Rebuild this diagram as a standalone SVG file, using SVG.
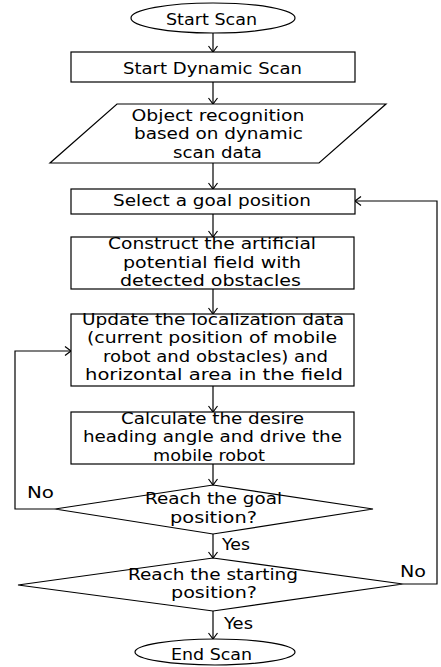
<svg xmlns="http://www.w3.org/2000/svg" width="441" height="667" viewBox="0 0 441 667">
<style>
.s{fill:#fff;stroke:#000;stroke-width:1.2}
.c{fill:none;stroke:#000;stroke-width:1.2}
text{font-family:"DejaVu Sans","Liberation Sans",sans-serif;font-size:15.5px;fill:#000;text-anchor:start}
</style>
<defs>
<marker id="a" markerWidth="12" markerHeight="12" refX="10" refY="6" orient="auto" markerUnits="userSpaceOnUse">
<path d="M4,1.5 L10,6 L4,10.5" fill="none" stroke="#000" stroke-width="1.2"/>
</marker>
</defs>
<g id="connectors">
<line class="c" x1="213" y1="33" x2="213" y2="52" marker-end="url(#a)"/>
<line class="c" x1="213" y1="82" x2="213" y2="104" marker-end="url(#a)"/>
<line class="c" x1="213" y1="163" x2="213" y2="189" marker-end="url(#a)"/>
<line class="c" x1="213" y1="214" x2="213" y2="237" marker-end="url(#a)"/>
<line class="c" x1="213" y1="289" x2="213" y2="314" marker-end="url(#a)"/>
<line class="c" x1="213" y1="386" x2="213" y2="412" marker-end="url(#a)"/>
<line class="c" x1="213" y1="464" x2="213" y2="485" marker-end="url(#a)"/>
<line class="c" x1="213" y1="534" x2="213" y2="558" marker-end="url(#a)"/>
<line class="c" x1="213" y1="611" x2="213" y2="639" marker-end="url(#a)"/>
<polyline class="c" points="55,509 15,509 15,351 71,351" marker-end="url(#a)"/>
<polyline class="c" points="403,584 437,584 437,201 355,201" marker-end="url(#a)"/>
<text x="27" y="498" textLength="27" lengthAdjust="spacingAndGlyphs">No</text>
<text x="222" y="550" textLength="28" lengthAdjust="spacingAndGlyphs">Yes</text>
<text x="400" y="577" textLength="26" lengthAdjust="spacingAndGlyphs">No</text>
<text x="224" y="629" textLength="29" lengthAdjust="spacingAndGlyphs">Yes</text>
</g>
<g id="start">
<ellipse class="s" cx="213" cy="18" rx="82" ry="15"/>
<text x="166" y="25" textLength="91" lengthAdjust="spacingAndGlyphs">Start Scan</text>
</g>
<g id="dynamic-scan">
<rect class="s" x="71" y="52" width="284" height="30"/>
<text x="123" y="74" textLength="179" lengthAdjust="spacingAndGlyphs">Start Dynamic Scan</text>
</g>
<g id="recognition">
<polygon class="s" points="117,104 386,104 319,163 50,163"/>
<text x="131.5" y="121" textLength="173" lengthAdjust="spacingAndGlyphs">Object recognition</text>
<text x="134" y="139" textLength="169" lengthAdjust="spacingAndGlyphs">based on dynamic</text>
<text x="173" y="157.5" textLength="89" lengthAdjust="spacingAndGlyphs">scan data</text>
</g>
<g id="select-goal">
<rect class="s" x="71" y="189" width="284" height="25"/>
<text x="113" y="206" textLength="198" lengthAdjust="spacingAndGlyphs">Select a goal position</text>
</g>
<g id="construct">
<rect class="s" x="71" y="237" width="283" height="52"/>
<text x="108" y="249" textLength="208" lengthAdjust="spacingAndGlyphs">Construct the artificial</text>
<text x="123" y="267.5" textLength="178" lengthAdjust="spacingAndGlyphs">potential field with</text>
<text x="120" y="286" textLength="181" lengthAdjust="spacingAndGlyphs">detected obstacles</text>
</g>
<g id="update">
<rect class="s" x="71" y="314" width="283" height="72"/>
<text x="82" y="325" textLength="262" lengthAdjust="spacingAndGlyphs">Update the localization data</text>
<text x="87" y="343.3" textLength="250" lengthAdjust="spacingAndGlyphs">(current position of mobile</text>
<text x="103" y="361.7" textLength="225" lengthAdjust="spacingAndGlyphs">robot and obstacles) and</text>
<text x="85" y="380" textLength="258" lengthAdjust="spacingAndGlyphs">horizontal area in the field</text>
</g>
<g id="calculate">
<rect class="s" x="71" y="412" width="283" height="52"/>
<text x="121" y="424" textLength="183" lengthAdjust="spacingAndGlyphs">Calculate the desire</text>
<text x="83" y="442.3" textLength="259" lengthAdjust="spacingAndGlyphs">heading angle and drive the</text>
<text x="153" y="460.7" textLength="112" lengthAdjust="spacingAndGlyphs">mobile robot</text>
</g>
<g id="reach-goal">
<polygon class="s" points="213,485 373,509 213,534 55,509"/>
<text x="145" y="504.3" textLength="137" lengthAdjust="spacingAndGlyphs">Reach the goal</text>
<text x="170" y="523.3" textLength="87" lengthAdjust="spacingAndGlyphs">position?</text>
</g>
<g id="reach-start">
<polygon class="s" points="213,558 403,584 213,611 18,585"/>
<text x="128" y="580" textLength="170" lengthAdjust="spacingAndGlyphs">Reach the starting</text>
<text x="171" y="598.3" textLength="86" lengthAdjust="spacingAndGlyphs">position?</text>
</g>
<g id="end">
<ellipse class="s" cx="215" cy="652" rx="80" ry="13"/>
<text x="171" y="660" textLength="81" lengthAdjust="spacingAndGlyphs">End Scan</text>
</g>
</svg>
